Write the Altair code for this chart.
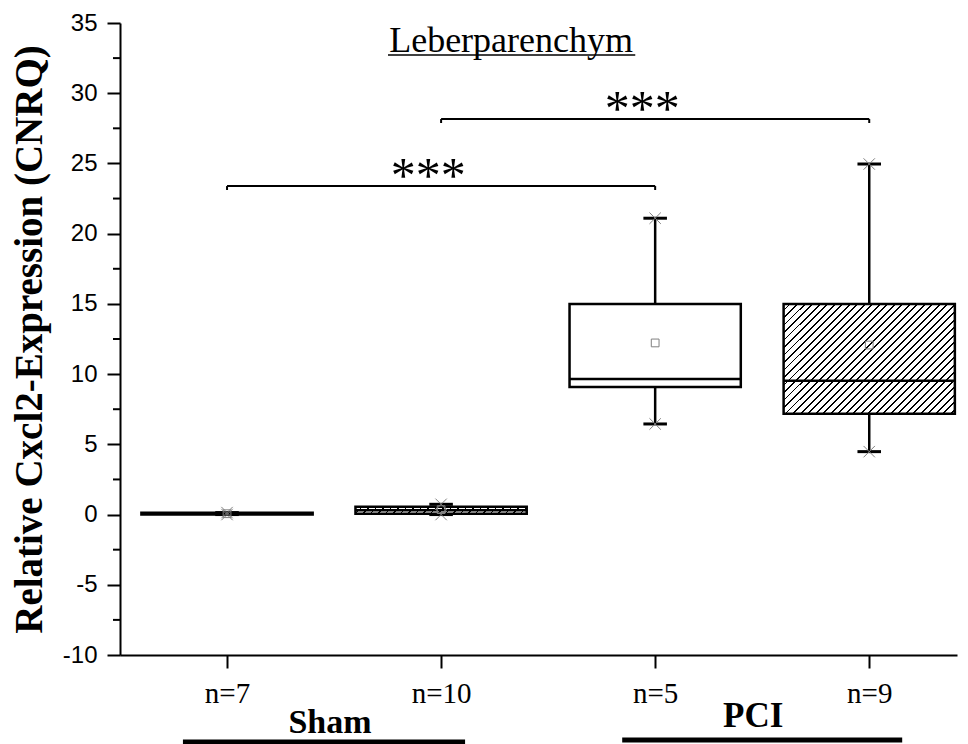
import math
import altair as alt
import pandas as pd

# ---------------- data ----------------
groups = ["Sham", "Sham", "PCI", "PCI"]
n_labels = ["n=7", "n=10", "n=5", "n=9"]
positions = [1, 2, 3, 4]
whisker_low = [0.0, 0.0, 6.45, 4.48]
q1 = [0.01, 0.05, 9.08, 7.18]
median = [0.06, 0.3, 9.65, 9.53]
q3 = [0.12, 0.55, 15.0, 15.0]
whisker_high = [0.14, 0.73, 21.1, 24.96]
means = [0.06, 0.35, 12.22, 12.07]
hatched = [False, True, False, True]

y_major = list(range(-10, 36, 5))
y_minor = [v + 2.5 for v in range(-10, 35, 5)]

sig_from = [1, 2]
sig_to = [3, 4]
sig_level = [23.39, 28.16]
sig_text = ["***", "***"]

chart_title = "Leberparenchym"
y_title = "Relative Cxcl2-Expression (CNRQ)"
group_names = ["Sham", "PCI"]

# ---------------- layout / style ----------------
X_DOMAIN = [0.5, 4.41]
Y_DOMAIN = [-10, 35]
PX_X = 214.0
H = 632
PX_Y = H / (Y_DOMAIN[1] - Y_DOMAIN[0])
W = round(PX_X * (X_DOMAIN[1] - X_DOMAIN[0]))
BOX_HALF = 0.40
CAP_HALF = 0.055
LW = 2.5

df = pd.DataFrame({
    "pos": positions, "label": n_labels, "group": groups,
    "lo": whisker_low, "q1": q1, "med": median, "q3": q3,
    "hi": whisker_high, "mean": means, "hatched": hatched,
})
df["xl"] = df["pos"] - BOX_HALF
df["xr"] = df["pos"] + BOX_HALF
df["cl"] = df["pos"] - CAP_HALF
df["cr"] = df["pos"] + CAP_HALF

label_expr = " : ".join(
    f"datum.value == {p} ? '{l}'" for p, l in zip(positions, n_labels)
) + " : ''"

xscale = alt.Scale(domain=X_DOMAIN, nice=False, zero=False)
yscale = alt.Scale(domain=Y_DOMAIN, nice=False, zero=False)

x_axis = alt.Axis(values=positions, labelExpr=label_expr, labelFont="Liberation Serif",
                  labelFontSize=29, labelColor="black", labelPadding=11, labelOverlap=False,
                  labelFlush=False, tickSize=13, tickWidth=2, tickColor="black",
                  domainColor="black", domainWidth=2, grid=False, title=None)
y_axis = alt.Axis(values=y_major,
                  labelExpr="datum.value < 0 ? '-' + (-datum.value) : '' + datum.value",
                  labelFont="Liberation Sans", labelFontSize=24,
                  labelColor="black", labelPadding=10, tickSize=13, tickWidth=2,
                  tickColor="black", domainColor="black", domainWidth=2, grid=False,
                  title=y_title, titleFont="Liberation Serif", titleFontSize=39,
                  titleFontWeight="bold", titleColor="black", titlePadding=13)


def X(field):
    return alt.X(field, type="quantitative", scale=xscale, axis=x_axis)


def Y(field):
    return alt.Y(field, type="quantitative", scale=yscale, axis=y_axis)


def hatch_gradient(w, h, period=7.5, line=1.8):
    r = h / w
    s = (1 + r) / (1 + r * r)
    dt = period / (w + h)
    f = line / period
    stops = []
    k = 0
    while k * dt < 1:
        t0 = k * dt
        t1 = min(t0 + dt * (1 - f), 1)
        t2 = min((k + 1) * dt, 1)
        stops += [{"offset": min(t0, 1), "color": "white"},
                  {"offset": t1, "color": "white"},
                  {"offset": t1, "color": "black"},
                  {"offset": t2, "color": "black"}]
        k += 1
    return alt.LinearGradient(gradient="linear", stops=stops, x1=0, y1=0,
                              x2=s, y2=s * r)


base = alt.Chart(df)

boxes = base.transform_filter("!datum.hatched").mark_rect(
    fill="white", stroke="black", strokeWidth=LW
).encode(x=X("xl"), x2="xr", y=Y("q1"), y2="q3")

hatch_layers = []
for i, hflag in enumerate(hatched):
    if not hflag:
        continue
    w_px = 2 * BOX_HALF * PX_X
    h_px = max((q3[i] - q1[i]) * PX_Y, 1)
    hatch_layers.append(
        alt.Chart(df.iloc[[i]]).mark_rect(
            fill=hatch_gradient(w_px, h_px), stroke="black", strokeWidth=LW
        ).encode(x=X("xl"), x2="xr", y=Y("q1"), y2="q3")
    )

medians = base.mark_rule(color="black", strokeWidth=LW).encode(
    x=X("xl"), x2="xr", y=Y("med"))
whisk_up = base.mark_rule(color="black", strokeWidth=LW).encode(
    x=X("pos"), y=Y("q3"), y2="hi")
whisk_dn = base.mark_rule(color="black", strokeWidth=LW).encode(
    x=X("pos"), y=Y("lo"), y2="q1")
cap_up = base.mark_rule(color="black", strokeWidth=3).encode(
    x=X("cl"), x2="cr", y=Y("hi"))
cap_dn = base.mark_rule(color="black", strokeWidth=3).encode(
    x=X("cl"), x2="cr", y=Y("lo"))
xshape = "M-1,-1L1,1M-1,1L1,-1"
cross_up = base.mark_point(shape=xshape, filled=False, stroke="#808080",
                           strokeWidth=1, size=130, opacity=1).encode(
    x=X("pos"), y=Y("hi"))
cross_dn = base.mark_point(shape=xshape, filled=False, stroke="#808080",
                           strokeWidth=1, size=130, opacity=1).encode(
    x=X("pos"), y=Y("lo"))
mean_pts = base.mark_point(shape="square", filled=False, stroke="#808080",
                           strokeWidth=1, size=60, opacity=1).encode(
    x=X("pos"), y=Y("mean"))

# minor ticks on y axis
minor_df = pd.DataFrame({"v": y_minor})
minor = alt.Chart(minor_df).mark_rule(color="black", strokeWidth=2).encode(
    y=Y("v"), x=alt.value(-7), x2=alt.value(0))

# significance brackets
sig_df = pd.DataFrame({"a": sig_from, "b": sig_to, "lvl": sig_level, "txt": sig_text})
sig_df["lvl_low"] = sig_df["lvl"] - 0.28
sig_df["mid"] = (sig_df["a"] + sig_df["b"]) / 2 - 0.06
sig_df["txt_y"] = sig_df["lvl"] - 0.45
sig_h = alt.Chart(sig_df).mark_rule(color="black", strokeWidth=2).encode(
    x=X("a"), x2="b", y=Y("lvl"))
sig_l = alt.Chart(sig_df).mark_rule(color="black", strokeWidth=2).encode(
    x=X("a"), y=Y("lvl"), y2="lvl_low")
sig_r = alt.Chart(sig_df).mark_rule(color="black", strokeWidth=2).encode(
    x=X("b"), y=Y("lvl"), y2="lvl_low")
sig_t = alt.Chart(sig_df).mark_text(font="Liberation Serif", fontSize=50,
                                    baseline="alphabetic", align="center",
                                    color="black").encode(
    x=X("mid"), y=Y("txt_y"), text="txt")

# title with underline
title_df = pd.DataFrame({"x": [2.327], "y": [32.94], "t": [chart_title],
                         "ul0": [1.752], "ul1": [2.907], "uly": [32.72]})
title_t = alt.Chart(title_df).mark_text(font="Liberation Serif", fontSize=36,
                                        baseline="alphabetic", align="center",
                                        color="black").encode(
    x=X("x"), y=Y("y"), text="t")
title_u = alt.Chart(title_df).mark_rule(color="black", strokeWidth=1.5).encode(
    x=X("ul0"), x2="ul1", y=Y("uly"))

# group labels below the axis
grp_df = pd.DataFrame({"name": group_names, "x": [1.481, 3.458],
                       "y": [-15.55, -15.13], "fs": [34, 35],
                       "b0": [0.794, 2.846], "b1": [2.112, 4.154],
                       "by": [-16.19, -16.05]})
grp_t = alt.Chart(grp_df).mark_text(font="Liberation Serif", fontWeight="bold",
                                    baseline="alphabetic", align="center",
                                    color="black", fontSize=34).encode(
    x=X("x"), y=Y("y"), text="name",
    size=alt.Size("fs:Q", scale=None, legend=None))
grp_b = alt.Chart(grp_df).mark_rule(color="black", strokeWidth=5).encode(
    x=X("b0"), x2="b1", y=Y("by"))

layers = [boxes] + hatch_layers + [medians, whisk_up, whisk_dn, cap_up, cap_dn,
                                   cross_up, cross_dn, mean_pts, minor,
                                   sig_h, sig_l, sig_r, sig_t, title_t, title_u,
                                   grp_t, grp_b]

chart = alt.layer(*layers).properties(
    width=W, height=H,
    autosize=alt.AutoSizeParams(type="none"),
    padding={"left": 112, "top": 15, "right": 3, "bottom": 89},
    background="white",
).configure_view(stroke=None)

chart.save("out.html", embed_options={"renderer": "svg", "actions": False})
